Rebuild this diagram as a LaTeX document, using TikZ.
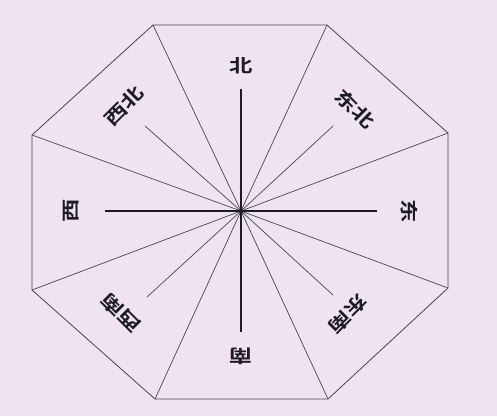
\documentclass[tikz,border=0pt]{standalone}
\usepackage{fontspec}
\newfontfamily\cjk{Noto Sans CJK SC Bold}
\definecolor{bg}{HTML}{EEE3EE}
\definecolor{ln}{HTML}{4A454C}
\definecolor{ax}{HTML}{1E1C22}
\newcommand{\wide}[1]{\scalebox{1.3}[1]{#1}}
\begin{document}
\begin{tikzpicture}[x=1pt,y=-1pt,
  edge/.style={draw=ln,line width=0.8pt},
  spoke/.style={draw=ln,line width=0.7pt},
  axis/.style={draw=ax,line width=1.5pt},
  lbl/.style={font=\cjk\fontsize{18}{18}\selectfont,text=ax,inner sep=0pt}]
\fill[bg] (0,0) rectangle (497,416);
\useasboundingbox (0,0) rectangle (497,416);
\coordinate (O) at (241,211);
\coordinate (v1) at (153,25);
\coordinate (v2) at (327,25);
\coordinate (v3) at (448,133);
\coordinate (v4) at (448,288);
\coordinate (v5) at (328,399);
\coordinate (v6) at (155,399);
\coordinate (v7) at (32,290);
\coordinate (v8) at (32,135);
\draw[edge,line join=round] (v1)--(v2)--(v3)--(v4)--(v5)--(v6)--(v7)--(v8)--cycle;
\foreach \v in {v1,v2,v3,v4,v5,v6,v7,v8} \draw[spoke] (O)--(\v);
\coordinate (nw) at (145,126);
\coordinate (ne) at (333,126);
\coordinate (sw) at (147,297);
\coordinate (se) at (333,295);
\foreach \v in {nw,ne,sw,se} \draw[spoke] (O)--(\v);
\coordinate (n) at (241,89);
\coordinate (s) at (241,332);
\coordinate (w) at (105,211);
\coordinate (e) at (377,211);
\foreach \v in {n,s,w,e} \draw[axis] (O)--(\v);
\fill[ax] (O) circle (2.2pt);
\node[lbl] (lN) at (241,66) {\wide{北}};
\node[lbl,rotate=180] (lS) at (241,356) {\wide{南}};
\node[lbl,rotate=-90] (lE) at (409,211) {\wide{东}};
\node[lbl,rotate=90] (lW) at (71,211) {\wide{西}};
\node[lbl,rotate=45] (lNW) at (124,106) {\wide{西北}};
\node[lbl,rotate=-45] (lNE) at (355,109) {\wide{东北}};
\node[lbl,rotate=135] (lSW) at (121,313) {\wide{西南}};
\node[lbl,rotate=-135] (lSE) at (348,314) {\wide{东南}};
\end{tikzpicture}
\end{document}
